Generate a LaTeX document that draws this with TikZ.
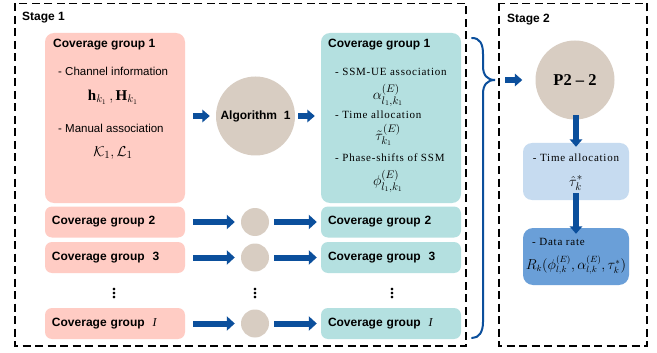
\documentclass[tikz,border=0pt]{standalone}
\usepackage{fontspec}
\setmainfont{Liberation Serif}
\setsansfont{Liberation Sans}
\newfontfamily\spacedserif[LetterSpace=7]{Liberation Serif}
\usetikzlibrary{arrows.meta}
\definecolor{pinkbox}{HTML}{FFCCC4}
\definecolor{tealbox}{HTML}{B4E0E0}
\definecolor{circfill}{HTML}{D8CDC2}
\definecolor{arrowblue}{HTML}{0B4F9C}
\definecolor{lightbluebox}{HTML}{C6DBF0}
\definecolor{midbluebox}{HTML}{6A9FD8}
\tikzset{
  frame/.style={draw=black, line width=1.8pt, dash pattern=on 8pt off 4.5pt},
  titletxt/.style={font=\sffamily\bfseries\fontsize{12}{14}\selectfont, inner sep=0pt},
  stagetxt/.style={font=\sffamily\bfseries\fontsize{12}{14}\selectfont, inner sep=0pt},
  subtxt/.style={font=\sffamily\fontsize{11.5}{13}\selectfont, inner sep=0pt},
  sertxt/.style={font=\spacedserif\fontsize{11}{13}\selectfont, inner sep=0pt},
  mathtxt/.style={font=\fontsize{15}{17}\selectfont, inner sep=0pt},
  mathsm/.style={font=\fontsize{13.5}{15}\selectfont, inner sep=0pt},
  bigbox/.style={rounded corners=9pt, minimum width=140pt, minimum height=170pt, inner sep=0pt},
  rowbox/.style={rounded corners=7pt, text width=126pt, inner xsep=7pt, inner ysep=0pt,
    minimum height=31pt, align=left, font=\sffamily\bfseries\fontsize{12}{14}\selectfont},
  bigcirc/.style={circle, fill=circfill, minimum size=79pt, inner sep=0pt},
  smallcirc/.style={circle, fill=circfill, minimum size=28pt, inner sep=0pt},
  barrow/.style={draw=arrowblue, line width=6pt, -{Triangle[length=8pt,width=14pt]}},
  sarrow/.style={draw=arrowblue, line width=5.5pt, -{Triangle[length=7.5pt,width=12.5pt]}},
  dotstxt/.style={font=\boldmath\fontsize{22}{22}\selectfont, inner sep=0pt},
}
\begin{document}
\begin{tikzpicture}[x=1pt,y=-1pt]
\useasboundingbox (0,0) rectangle (657,353);
\fill[white] (0,0) rectangle (657,353);

% stage frames
\draw[frame] (15,3.5) rectangle (466,346);
\draw[frame] (499,3.5) rectangle (647,346);
\node[stagetxt, anchor=west] (s1) at (22,18) {Stage 1};
\node[stagetxt, anchor=west] (s2) at (507,20) {Stage 2};

% pink group 1
\node[bigbox, fill=pinkbox] (p1) at (115,118) {};
\node[titletxt, anchor=west] (p1t) at (53,45) {Coverage group 1};
\node[subtxt, anchor=west] (p1a) at (58,71) {- Channel information};
\node[mathtxt] (p1b) at (113,97) {$\mathbf{h}_{k_1}\,, \mathbf{H}_{k_1}$};
\node[subtxt, anchor=west] (p1c) at (58,128) {- Manual association};
\node[mathtxt] (p1d) at (113,153) {$\mathcal{K}_1, \mathcal{L}_1$};

% algorithm circle
\node[bigcirc, font=\sffamily\bfseries\fontsize{12}{14}\selectfont] (alg) at (255.5,116) {Algorithm\ \ 1};

% teal group 1
\node[bigbox, fill=tealbox] (t1) at (391,118) {};
\node[titletxt, anchor=west] (t1t) at (328,45) {Coverage group 1};
\node[sertxt, anchor=west] (t1a) at (335,72) {- SSM-UE association};
\node[mathtxt] (t1b) at (388,95) {$\alpha^{(E)}_{l_1,k_1}$};
\node[sertxt, anchor=west] (t1c) at (335,115) {- Time allocation};
\node[mathtxt] (t1d) at (388,135) {$\tilde{\tau}^{(E)}_{k_1}$};
\node[sertxt, anchor=west] (t1e) at (335,158) {- Phase-shifts of SSM};
\node[mathtxt] (t1f) at (388,181) {$\phi^{(E)}_{l_1,k_1}$};

% row boxes
\node[rowbox, fill=pinkbox] (p2) at (115,222) {Coverage group 2};
\node[rowbox, fill=pinkbox] (p3) at (115,257.5) {Coverage group\ \ 3};
\node[rowbox, fill=pinkbox] (pI) at (115,323.5) {Coverage group\ \ {\rmfamily\mdseries\itshape I}};
\node[rowbox, fill=tealbox] (t2) at (391,222) {Coverage group 2};
\node[rowbox, fill=tealbox] (t3) at (391,257.5) {Coverage group\ \ 3};
\node[rowbox, fill=tealbox] (tI) at (391,323.5) {Coverage group\ \ {\rmfamily\mdseries\itshape I}};

\node[smallcirc] (c2) at (255,222) {};
\node[smallcirc] (c3) at (255,257.5) {};
\node[smallcirc] (cI) at (255,323.5) {};

\node[dotstxt] (d1) at (114,291) {$\vdots$};
\node[dotstxt] (d2) at (255,291) {$\vdots$};
\node[dotstxt] (d3) at (392,291) {$\vdots$};

% arrows stage 1
\draw[sarrow] ([xshift=8pt]p1.east |- alg.west) -- ([xshift=-6pt]alg.west);
\draw[sarrow] ([xshift=3pt]alg.east) -- ([xshift=-6pt]t1.west |- alg.west);
\draw[barrow] ([xshift=8pt]p2.east) -- ([xshift=-6pt]c2.west);
\draw[barrow] ([xshift=5pt]c2.east) -- ([xshift=-4pt]t2.west);
\draw[barrow] ([xshift=8pt]p3.east) -- ([xshift=-6pt]c3.west);
\draw[barrow] ([xshift=5pt]c3.east) -- ([xshift=-4pt]t3.west);
\draw[barrow] ([xshift=8pt]pI.east) -- ([xshift=-6pt]cI.west);
\draw[barrow] ([xshift=5pt]cI.east) -- ([xshift=-4pt]tI.west);

% brace
\coordinate (brtop) at (472,38);
\coordinate (brtip) at (495,80);
\coordinate (brbot) at (472,338);
\draw[arrowblue, line width=2pt, line cap=round]
  (brtop) .. controls (480,38) and (483,44) .. (483,54)
  -- (483,66) .. controls (483,75) and (487,80) .. (brtip)
  .. controls (487,80) and (483,85) .. (483,94)
  -- (483,322) .. controls (483,332) and (479,338) .. (brbot);

% stage 2
\node[bigcirc, font=\rmfamily\bfseries\fontsize{16.5}{18}\selectfont] (p22) at (575,80) {P2 – 2};
\node[rounded corners=9pt, fill=lightbluebox, minimum width=106pt, minimum height=57pt, inner sep=0pt] (ta) at (576,171.5) {};
\node[sertxt] (taa) at (576,158) {- Time allocation};
\node[mathtxt] (tab) at (576,183) {$\hat{\tau}^{*}_{k}$};
\node[rounded corners=10pt, fill=midbluebox, minimum width=106pt, minimum height=57pt, inner sep=0pt] (dr) at (576,256.5) {};
\node[sertxt, anchor=west] (dra) at (532,242) {- Data rate};
\node[mathsm] (drb) at (576,265) {$R_k(\phi^{(E)}_{l,k},\alpha^{(E)}_{l,k},\tau^{*}_{k})$};

\draw[sarrow] ([xshift=10pt]brtip) -- ([xshift=-13pt]p22.west);
\draw[sarrow] ([yshift=4.5pt]p22.south -| ta.north) -- ([yshift=-4pt]ta.north);
\draw[sarrow] ([yshift=7pt]ta.south) -- ([yshift=-6pt]dr.north);
\end{tikzpicture}
\end{document}
